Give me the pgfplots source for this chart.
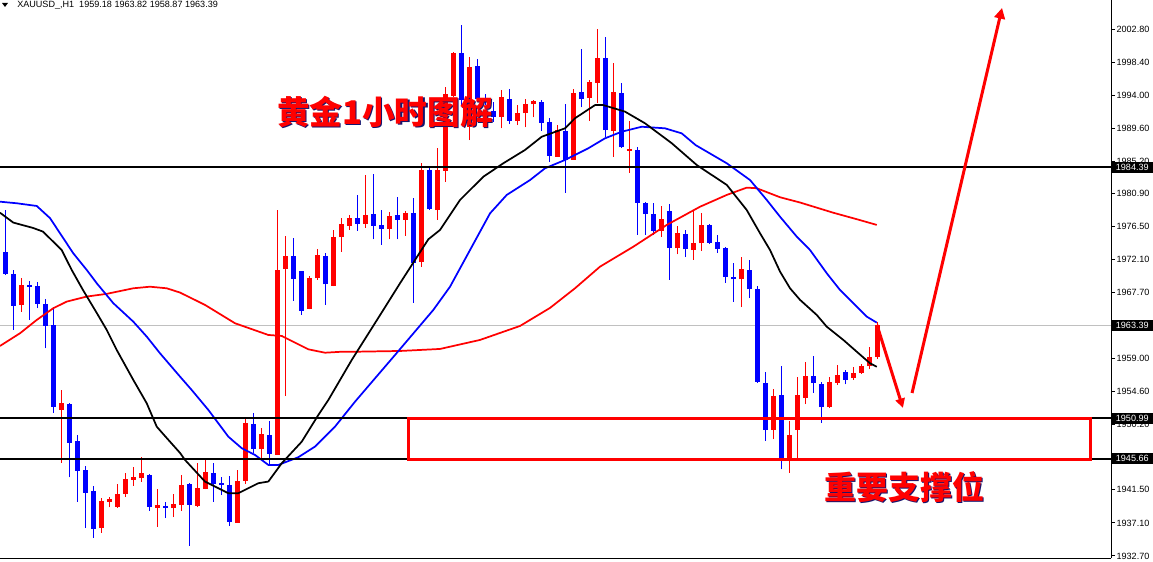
\documentclass[border=0pt]{standalone}
\usepackage{fontspec}
\setmainfont{Liberation Sans}
\newfontfamily\cjk{Noto Sans CJK SC}
\usepackage{pgfplots}
\usepackage{pgfplotstable}
\pgfplotsset{compat=1.18}
\usetikzlibrary{arrows.meta}
\definecolor{mtred}{RGB}{255,0,0}
\definecolor{mtblue}{RGB}{0,0,255}
\definecolor{shadowc}{RGB}{20,20,110}

\pgfplotstableread{
i O H L C
0 1973.18 1978.72 1970.08 1970.22
1 1970.22 1970.75 1962.77 1965.97
2 1966.10 1969.64 1965.20 1968.75
3 1968.75 1969.32 1964.10 1968.52
4 1968.62 1969.15 1965.66 1966.23
5 1966.23 1966.86 1960.33 1963.30
6 1963.43 1965.79 1951.77 1952.57
7 1952.13 1954.78 1945.11 1953.09
8 1952.91 1953.09 1943.17 1947.79
9 1947.99 1948.79 1939.93 1944.05
10 1944.14 1944.67 1936.40 1941.13
11 1941.36 1942.02 1935.14 1936.30
12 1936.48 1940.38 1935.81 1940.02
13 1939.93 1940.52 1939.18 1940.29
14 1939.26 1942.29 1939.10 1940.96
15 1940.96 1943.70 1940.52 1942.94
16 1942.83 1944.58 1942.02 1943.25
17 1943.03 1945.92 1942.60 1943.70
18 1943.47 1943.61 1938.73 1939.26
19 1939.13 1941.62 1936.61 1939.49
20 1939.35 1939.93 1937.73 1939.05
21 1939.05 1940.96 1937.87 1939.62
22 1939.49 1943.47 1938.73 1942.16
23 1942.29 1942.38 1934.03 1939.49
24 1939.35 1945.03 1939.20 1941.72
25 1941.62 1945.48 1941.55 1943.83
26 1943.70 1945.03 1939.93 1942.29
27 1942.38 1943.25 1940.82 1942.16
28 1942.16 1943.34 1936.74 1937.28
29 1937.14 1944.14 1937.10 1942.69
30 1942.69 1951.02 1942.29 1950.44
31 1950.26 1951.77 1946.37 1946.98
32 1946.98 1949.69 1945.70 1948.93
33 1948.79 1950.66 1944.81 1946.28
34 1946.14 1978.72 1946.10 1970.75
35 1970.85 1975.27 1953.98 1972.62
36 1972.62 1974.96 1966.67 1969.55
37 1970.62 1970.66 1964.76 1965.34
38 1965.61 1969.99 1965.50 1969.64
39 1969.64 1973.50 1969.42 1972.74
40 1972.62 1972.96 1966.10 1968.84
41 1968.66 1976.07 1968.55 1975.10
42 1975.10 1977.64 1973.18 1976.87
43 1976.65 1978.06 1976.07 1977.64
44 1977.64 1980.73 1975.98 1976.87
45 1976.87 1983.38 1976.38 1978.06
46 1978.19 1983.51 1974.83 1976.61
47 1976.74 1978.72 1974.07 1976.21
48 1976.21 1978.50 1974.83 1977.92
49 1978.06 1980.42 1974.83 1977.41
50 1977.41 1978.63 1975.31 1978.36
51 1978.36 1980.29 1966.41 1971.73
52 1971.86 1984.94 1971.19 1984.04
53 1984.04 1984.48 1978.72 1978.82
54 1978.72 1986.94 1977.41 1984.04
55 1983.95 1995.13 1982.50 1994.15
56 1993.88 1999.70 1993.70 1999.56
57 1999.56 2003.34 1992.68 1993.35
58 1989.80 1999.03 1988.03 1997.77
59 1997.87 1998.76 1993.08 1993.44
60 1993.55 1994.15 1992.75 1993.25
61 1991.94 1993.08 1990.47 1991.14
62 1991.14 1994.68 1989.59 1993.71
63 1993.48 1994.82 1990.16 1990.61
64 1990.61 1992.70 1990.03 1991.59
65 1991.59 1993.44 1989.72 1992.82
66 1992.78 1993.35 1991.06 1993.22
67 1993.12 1993.35 1989.27 1990.34
68 1990.43 1990.93 1985.15 1985.95
69 1985.82 1990.03 1985.82 1989.36
70 1989.23 1992.82 1981.03 1985.38
71 1985.38 1994.78 1985.38 1994.24
72 1994.42 2000.14 1992.39 1993.48
73 1993.66 1996.02 1990.61 1995.75
74 1995.66 2002.81 1992.91 1998.90
75 1998.90 2001.78 1988.47 1989.36
76 1989.23 1998.31 1985.82 1994.46
77 1994.32 1995.66 1987.00 1987.07
78 1986.62 1990.61 1983.68 1986.89
79 1986.71 1987.15 1975.41 1979.70
80 1979.70 1979.75 1975.41 1978.19
81 1978.15 1979.62 1975.41 1975.98
82 1975.94 1979.26 1975.10 1977.50
83 1978.59 1979.52 1969.42 1973.71
84 1973.63 1976.61 1972.83 1975.63
85 1975.50 1976.07 1972.45 1973.50
86 1973.40 1978.63 1972.09 1974.38
87 1974.30 1978.32 1973.31 1976.74
88 1976.74 1976.87 1974.20 1974.38
89 1974.43 1975.41 1973.04 1973.50
90 1973.63 1973.76 1969.06 1969.86
91 1969.78 1971.73 1966.54 1969.51
92 1969.51 1972.45 1965.79 1970.85
93 1970.75 1972.09 1966.99 1968.18
94 1968.22 1968.62 1955.76 1955.89
95 1955.76 1957.22 1948.03 1949.46
96 1949.46 1954.91 1948.22 1953.98
97 1954.11 1958.01 1944.23 1945.70
98 1945.70 1950.70 1943.78 1948.79
99 1949.46 1956.56 1945.70 1954.11
100 1953.75 1958.46 1952.91 1956.65
101 1956.65 1959.34 1954.42 1955.68
102 1955.58 1955.89 1950.44 1952.49
103 1952.49 1956.48 1952.40 1955.89
104 1955.76 1958.10 1955.45 1956.78
105 1957.14 1957.45 1955.54 1956.12
106 1956.42 1957.87 1956.12 1957.09
107 1957.01 1958.23 1956.95 1958.01
108 1957.97 1960.54 1957.54 1959.13
109 1959.18 1963.82 1958.87 1963.39
}\candles

\pgfplotstableread{
x y
-0.66 1978.36
1.0 1977.05
3.46 1976.34
4.71 1975.85
7.05 1973.40
8.3 1970.75
9.71 1968.08
11.43 1965.03
12.68 1962.77
13.93 1960.10
16.0 1956.12
17.68 1953.01
18.93 1949.90
20.18 1948.39
21.84 1946.41
22.46 1945.48
24.96 1942.60
27.88 1941.05
29.13 1941.05
31.63 1942.38
32.88 1942.60
34.55 1945.03
37.05 1947.90
39.13 1951.46
40.38 1953.45
43.3 1958.77
47.25 1965.43
49.34 1968.98
52.88 1974.83
54.34 1976.07
56.84 1980.06
59.75 1983.15
62.25 1984.94
64.96 1986.71
67.05 1988.47
69.96 1989.59
71.21 1990.93
73.71 1992.68
74.75 1992.68
77.46 1991.81
79.96 1990.26
83.3 1987.61
86.43 1984.71
90.18 1982.06
92.68 1978.72
94.34 1975.63
95.59 1973.40
96.84 1970.53
98.09 1968.31
99.34 1966.77
101.43 1964.76
102.68 1963.20
104.75 1961.44
106.43 1959.87
108.09 1958.33
108.93 1957.87
}\maBlack

\pgfplotstableread{
x y
-0.66 1979.83
1.43 1979.62
3.93 1979.26
5.59 1977.64
6.84 1975.63
8.5 1972.96
10.18 1970.75
11.43 1968.98
13.5 1966.33
16.0 1963.87
17.68 1961.88
19.34 1959.66
21.84 1956.56
23.3 1954.78
25.38 1952.13
27.88 1948.57
29.55 1947.04
31.21 1946.14
32.88 1944.81
34.13 1944.81
36.63 1945.84
38.71 1947.25
41.21 1949.90
43.71 1953.22
48.71 1959.43
53.5 1965.43
55.59 1968.52
58.09 1973.40
60.59 1978.28
62.68 1980.73
65.59 1982.71
67.46 1984.27
69.96 1985.38
72.88 1986.94
74.96 1988.26
77.05 1989.14
79.55 1989.80
82.46 1989.59
84.55 1988.92
86.3 1987.35
90.18 1984.94
93.09 1982.71
95.18 1980.06
96.84 1977.83
98.93 1975.18
100.59 1973.40
102.68 1970.31
104.34 1968.08
106.43 1965.87
107.68 1964.54
108.93 1963.74
}\maBlue

\pgfplotstableread{
x y
-0.66 1960.64
1.84 1962.33
3.93 1964.10
6.0 1965.66
7.68 1966.54
10.18 1967.21
12.68 1967.57
16.0 1968.31
18.09 1968.52
20.18 1968.31
21.84 1967.74
24.96 1966.10
28.71 1963.66
32.88 1962.10
34.55 1961.97
37.88 1960.19
39.96 1959.74
42.05 1959.87
43.71 1959.87
49.34 1959.97
54.34 1960.24
59.34 1961.44
64.34 1963.30
68.09 1965.70
71.21 1968.31
74.34 1971.19
78.5 1973.84
82.68 1976.74
86.84 1979.16
90.18 1980.73
92.68 1981.70
93.93 1981.62
96.84 1980.42
99.34 1979.72
103.5 1978.36
106.43 1977.50
108.93 1976.74
}\maRed

\begin{document}
\begin{tikzpicture}
\begin{axis}[
  name=ax, at={(0,0)}, anchor=south west,
  scale only axis, width=833.25pt, height=418.5pt,
  xmin=-0.6625, xmax=138.21, ymin=1932.43, ymax=2006.66,
  axis x line*=bottom, axis y line*=right,
  axis line style={line width=0.75pt, black},
  xtick=\empty,
  ytick={1932.70,1937.10,1941.50,1950.20,1954.60,1959.00,1967.70,1972.10,1976.50,1980.90,1985.20,1989.60,1994.00,1998.40,2002.80},
  yticklabels={1932.70,1937.10,1941.50,1950.20,1954.60,1959.00,1967.70,1972.10,1976.50,1980.90,1985.20,1989.60,1994.00,1998.40,2002.80},
  tick align=outside, major tick length=3pt,
  tick style={line width=0.75pt, black},
  yticklabel style={font=\fontsize{6.8}{8}\selectfont, inner sep=1pt},
  clip=false,
]
% bid line
\addplot[color={rgb,255:red,192;green,192;blue,192}, line width=0.75pt, forget plot] coordinates {(-0.6625,1963.39) (138.21,1963.39)};

% wicks up
\addplot[draw=none, mark=none, forget plot,
  restrict expr to domain={\thisrow{C}-\thisrow{O}}{0:1000},
  error bars/.cd, y dir=plus, y explicit, error mark=none,
  error bar style={draw=mtred, line width=0.75pt}]
  table[x=i, y=L, y error expr=\thisrow{H}-\thisrow{L}] {\candles};
% wicks down
\addplot[draw=none, mark=none, forget plot,
  restrict expr to domain={\thisrow{O}-\thisrow{C}}{0.00001:1000},
  error bars/.cd, y dir=plus, y explicit, error mark=none,
  error bar style={draw=mtblue, line width=0.75pt}]
  table[x=i, y=L, y error expr=\thisrow{H}-\thisrow{L}] {\candles};
% bodies up
\addplot[draw=none, mark=none, forget plot,
  restrict expr to domain={\thisrow{C}-\thisrow{O}}{0:1000},
  error bars/.cd, y dir=plus, y explicit, error mark=none,
  error bar style={draw=mtred, line width=3.75pt}]
  table[x=i, y=O, y error expr=\thisrow{C}-\thisrow{O}] {\candles};
% bodies down
\addplot[draw=none, mark=none, forget plot,
  restrict expr to domain={\thisrow{O}-\thisrow{C}}{0.00001:1000},
  error bars/.cd, y dir=plus, y explicit, error mark=none,
  error bar style={draw=mtblue, line width=3.75pt}]
  table[x=i, y=C, y error expr=\thisrow{O}-\thisrow{C}] {\candles};

% moving averages
\addplot[mtred, line width=1.3pt, line join=round, forget plot] table[x=x,y=y] {\maRed};
\addplot[mtblue, line width=1.3pt, line join=round, forget plot] table[x=x,y=y] {\maBlue};
\addplot[black, line width=1.3pt, line join=round, forget plot] table[x=x,y=y] {\maBlack};

% horizontal levels
\addplot[black, line width=1.5pt, forget plot] coordinates {(-0.6625,1984.39) (138.21,1984.39)};
\addplot[black, line width=1.5pt, forget plot] coordinates {(-0.6625,1950.99) (138.21,1950.99)};
\addplot[black, line width=1.5pt, forget plot] coordinates {(-0.6625,1945.66) (138.21,1945.66)};

% support zone
\draw[mtred, line width=2.25pt] (axis cs:50.46,1945.55) rectangle (axis cs:135.59,1951.05);

% arrows
\draw[mtred, line width=2.25pt, -{Triangle[length=7pt,width=7pt]}] (axis cs:108.96,1963.43) -- (axis cs:112.2,1952.4);
\draw[mtred, line width=2.25pt, -{Triangle[length=8pt,width=8pt]}] (axis cs:113.34,1954.38) -- (axis cs:124.59,2005.6);

% texts
\node[text=shadowc, font=\cjk\bfseries\fontsize{24.5}{26}\selectfont] at ([xshift=0.9pt,yshift=-0.9pt]axis cs:47.46,1991.76) {黄金1小时图解};
\node[text=mtred, font=\cjk\bfseries\fontsize{24.5}{26}\selectfont] at (axis cs:47.46,1991.76) {黄金1小时图解};
\node[text=shadowc, font=\cjk\bfseries\fontsize{24}{26}\selectfont] at ([xshift=0.9pt,yshift=-0.9pt]axis cs:112.34,1941.88) {重要支撑位};
\node[text=mtred, font=\cjk\bfseries\fontsize{24}{26}\selectfont] at (axis cs:112.34,1941.88) {重要支撑位};

\coordinate (b1) at (axis cs:138.21,1984.39);
\coordinate (b2) at (axis cs:138.21,1963.39);
\coordinate (b3) at (axis cs:138.21,1950.99);
\coordinate (b4) at (axis cs:138.21,1945.66);
\end{axis}

% price boxes on the scale
\foreach \c/\t in {b1/1984.39, b2/1963.39, b3/1950.99, b4/1945.66}{
  \node[anchor=west, fill=black, text=white, inner sep=0pt, minimum height=8.5pt, minimum width=31.5pt,
        font=\fontsize{6.8}{8}\selectfont] at (\c) {\t};
}

% header
\fill[black] (1.5pt,416.25pt) -- (6pt,416.25pt) -- (3.75pt,413.25pt) -- cycle;
\node[anchor=west, inner sep=0pt, font=\fontsize{6.8}{8}\selectfont] at (12.75pt,414.6pt) {XAUUSD\_,H1\ \ 1959.18 1963.82 1958.87 1963.39};

\pgfresetboundingbox
\path[use as bounding box] (0,-2.25pt) rectangle (864.75pt,418.5pt);
\end{tikzpicture}
\end{document}
